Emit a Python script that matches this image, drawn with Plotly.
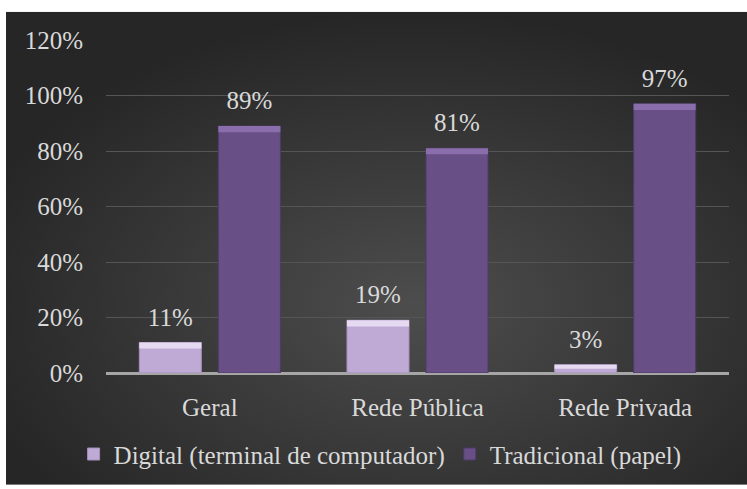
import plotly.graph_objects as go
import base64

categories = ["Geral", "Rede Pública", "Rede Privada"]
digital = [11, 19, 3]
tradicional = [89, 81, 97]
series_names = ["Digital (terminal de computador)", "Tradicional (papel)"]
y_ticks = [0, 20, 40, 60, 80, 100, 120]

FONT = "Liberation Serif"
TXT = "#d9d9d9"
PAD = 3.2      # visual gap between bar top and label (in axis units)
BEVEL = 2.2    # height of top bevel highlight (in axis units)

svg = (
    '<svg xmlns="http://www.w3.org/2000/svg" width="741" height="478" viewBox="0 0 741 478" preserveAspectRatio="none">'
    '<defs><radialGradient id="g" cx="0.55" cy="0.62" r="0.62" gradientUnits="objectBoundingBox">'
    '<stop offset="0" stop-color="#4d4d4d"/><stop offset="1" stop-color="#262626"/>'
    '</radialGradient></defs><rect width="741" height="478" fill="url(#g)"/></svg>'
)
bg_uri = "data:image/svg+xml;base64," + base64.b64encode(svg.encode()).decode()

fig = go.Figure()

styles = [
    dict(face="#bfaad5", line="#a58fbc", hi="#e6d9f2"),
    dict(face="#684f86", line="#4e3b66", hi="#8a6dab"),
]
groups = ["d", "t"]

for name, vals, st, g in zip(series_names, [digital, tradicional], styles, groups):
    fig.add_trace(go.Bar(
        x=categories, y=vals, name=name, offsetgroup=g,
        marker=dict(color=st["face"], line=dict(color=st["line"], width=1)),
        hoverinfo="skip",
    ))
    # top bevel highlight
    fig.add_trace(go.Bar(
        x=categories, y=[min(BEVEL, v * 0.5) for v in vals],
        base=[v - min(BEVEL, v * 0.5) for v in vals],
        offsetgroup=g, showlegend=False, hoverinfo="skip",
        marker=dict(color=st["hi"], line=dict(width=0)),
    ))
    # invisible spacer carrying the value labels
    fig.add_trace(go.Bar(
        x=categories, y=[PAD] * len(vals), base=vals,
        offsetgroup=g, showlegend=False, hoverinfo="skip",
        marker=dict(color="rgba(0,0,0,0)", line=dict(width=0)),
        text=[f"{v}%" for v in vals], textposition="outside",
        textfont=dict(family=FONT, size=25, color=TXT),
        constraintext="none", cliponaxis=False,
    ))

fig.update_layout(
    width=747, height=489,
    margin=dict(l=106, r=18, t=39.5, b=113),
    paper_bgcolor="white", plot_bgcolor="rgba(0,0,0,0)",
    barmode="group", bargap=0.239, bargroupgap=0.215,
    font=dict(family=FONT, size=25, color=TXT),
    showlegend=True,
    legend=dict(orientation="h", x=0.44, xanchor="center", y=-0.175, yanchor="top",
                font=dict(family=FONT, size=25, color=TXT), bgcolor="rgba(0,0,0,0)",
                traceorder="normal"),
    images=[dict(source=bg_uri, xref="paper", yref="paper",
                 x=-0.1605, y=1.0847, sizex=1.1894, sizey=1.4205,
                 xanchor="left", yanchor="top", sizing="stretch", layer="below")],
    xaxis=dict(showgrid=False, showline=False, ticks="", ticklabelstandoff=17,
               tickfont=dict(family=FONT, size=25, color=TXT)),
    yaxis=dict(range=[0, 120], tickvals=y_ticks, ticktext=[f"{t}%" for t in y_ticks],
               showgrid=True, gridcolor="#555555", gridwidth=1,
               zeroline=True, zerolinecolor="#a6a6a6", zerolinewidth=2.5,
               showline=False, ticks="", ticklabelstandoff=22,
               tickfont=dict(family=FONT, size=25, color=TXT)),
)

fig.write_html("out.html")
